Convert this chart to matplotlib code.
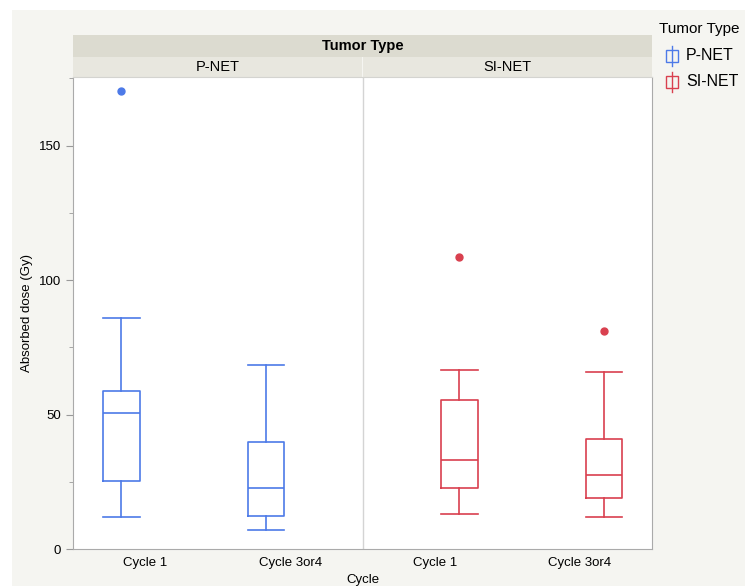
import numpy as np
import matplotlib.pyplot as plt
from matplotlib.patches import Rectangle
from matplotlib.lines import Line2D

plt.rcParams['font.family'] = ['Liberation Sans', 'DejaVu Sans']

# data: box statistics (Gy)
tumor_types = ['P-NET', 'SI-NET']
cycles = ['Cycle 1', 'Cycle 3or4']
whislo = [[11.9, 6.9], [13.1, 11.9]]
q1 = [[25.4, 12.3], [22.6, 19.0]]
med = [[50.7, 22.6], [33.2, 27.4]]
q3 = [[58.7, 39.7], [55.5, 40.8]]
whishi = [[85.9, 68.4], [66.5, 65.8]]
fliers = [[[170.3], []], [[108.6], [81.0]]]
colors = ['#4d7ae8', '#d9404f']

W, H = 745, 586
fig = plt.figure(figsize=(W / 100, H / 100), dpi=100)
fig.patch.set_facecolor('white')
fig.patches.append(Rectangle((12 / W, 0), 1, 1 - 10 / H, transform=fig.transFigure,
                             facecolor='#f5f5f1', edgecolor='none', zorder=-10))

L, R, T, B = 73, 652, 77, 549
ax = fig.add_axes([L / W, 1 - B / H, (R - L) / W, (B - T) / H])
ax.set_facecolor('white')

for i, tt in enumerate(tumor_types):
    for j, cy in enumerate(cycles):
        off = -0.165 if i == 0 else 0.17
        pos = 2 * i + j + 0.5 + off
        st = [dict(whislo=whislo[i][j], q1=q1[i][j], med=med[i][j], q3=q3[i][j],
                   whishi=whishi[i][j], fliers=fliers[i][j])]
        c = colors[i]
        ax.bxp(st, positions=[pos], widths=0.25, capwidths=0.25,
               boxprops=dict(color=c, lw=1.2), whiskerprops=dict(color=c, lw=1.2),
               capprops=dict(color=c, lw=1.2), medianprops=dict(color=c, lw=1.2),
               flierprops=dict(marker='o', markersize=5, markerfacecolor=c,
                               markeredgecolor=c))

ax.set_xlim(0, 4)
ax.set_ylim(0, 175.5)
ax.axvline(2, color='#d4d4d4', lw=1)
ax.set_xticks([0.5, 1.5, 2.5, 3.5])
ax.set_xticklabels(cycles * 2, fontsize=9.5)
ax.set_yticks([0, 50, 100, 150])
ax.set_yticks([25, 75, 125, 175], minor=True)
ax.tick_params(axis='y', labelsize=9.5, length=5, color='#999999')
ax.tick_params(axis='y', which='minor', length=3, color='#999999')
ax.tick_params(axis='x', length=0, pad=6)
for s in ['left', 'bottom', 'right']:
    ax.spines[s].set_color('#aaaaaa')
ax.spines['top'].set_visible(False)
ax.set_ylabel('Absorbed dose (Gy)', fontsize=9.5)
ax.set_xlabel('Cycle', fontsize=9.5)
ax.xaxis.set_label_coords(0.5, -0.052)

# strips
ht = fig.add_axes([L / W, 1 - 57 / H, (R - L) / W, 22 / H])
ht.set_facecolor('#dcdbd0')
ht.set_xticks([]); ht.set_yticks([])
for s in ht.spines.values():
    s.set_visible(False)
ht.text(0.5, 0.5, 'Tumor Type', ha='center', va='center', fontsize=10.5, fontweight='bold')
for i, tt in enumerate(tumor_types):
    sa = fig.add_axes([(L + i * 290) / W, 1 - 77 / H, 289 / W, 20 / H])
    sa.set_facecolor('#e8e7df')
    sa.set_xticks([]); sa.set_yticks([])
    for s in sa.spines.values():
        s.set_visible(False)
    sa.spines['bottom'].set_visible(True)
    sa.spines['bottom'].set_color('#d4d4d0')
    sa.text(0.5, 0.5, tt, ha='center', va='center', fontsize=10.5)

# legend
fig.text(659 / W, 1 - 29 / H, 'Tumor Type', fontsize=11, va='center')
for i, tt in enumerate(tumor_types):
    y = 56 + i * 26
    c = colors[i]
    x0 = 672
    fig.add_artist(Line2D([x0 / W, x0 / W], [1 - (y - 10) / H, 1 - (y + 10) / H],
                          color=c, lw=1, transform=fig.transFigure))
    fig.patches.append(Rectangle(((x0 - 6) / W, 1 - (y + 6) / H), 12 / W, 12 / H,
                                 transform=fig.transFigure, facecolor='#f5f5f1',
                                 edgecolor=c, lw=1))
    fig.text(686 / W, 1 - y / H, tt, fontsize=11.5, va='center')

fig.savefig('out.png', dpi=100)
